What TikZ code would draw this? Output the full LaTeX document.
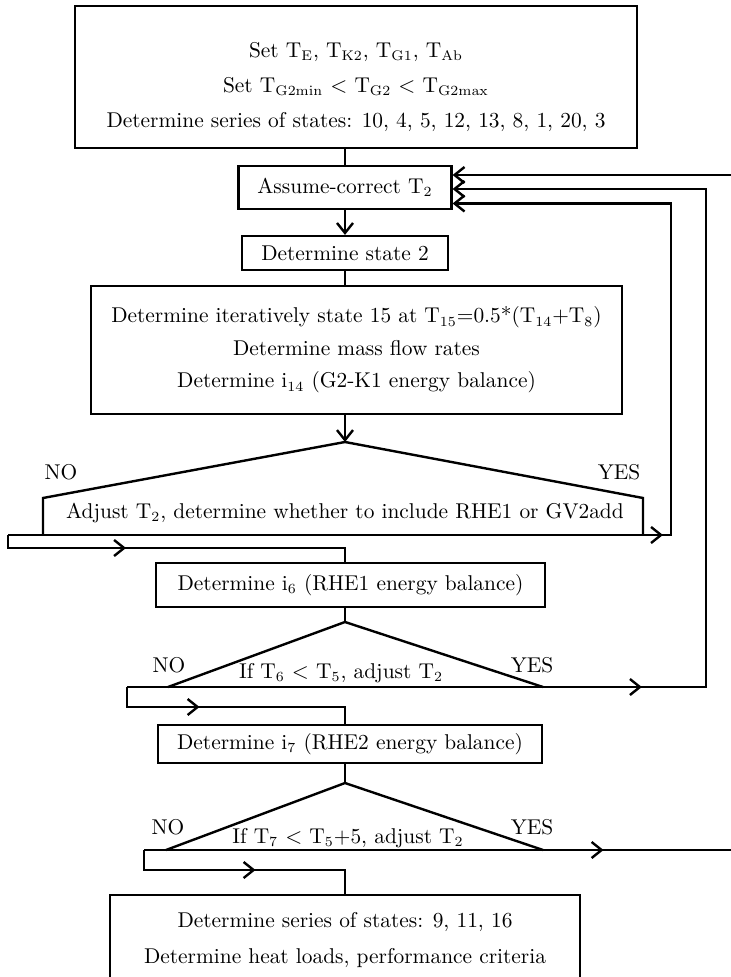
\documentclass[tikz,border=0pt]{standalone}
\usetikzlibrary{arrows.meta,decorations.markings}

\begin{document}
\begin{tikzpicture}[x=0.5pt, y=-0.5pt,
    fbox/.style={draw, line width=1.1pt, inner sep=0pt, align=center,
                 font=\fontsize{10.7}{13}\selectfont},
    lbl/.style={inner sep=0pt, font=\fontsize{10.7}{13}\selectfont},
    line/.style={line width=1.2pt},
    arr/.style={line, -{Straight Barb[length=5pt,width=8pt]}},
    midarr/.style={line, postaction={decorate}, decoration={markings,
        mark=at position #1 with {\arrow{Straight Barb[length=5pt,width=8pt]}}}}
  ]
  \useasboundingbox (0,0) rectangle (731,977);

  % boxes
  \node[fbox, minimum width=281pt, minimum height=71pt] (setup) at (356,77)
    {\rule{0pt}{17.5pt}Set T$_\mathrm{E}$, T$_\mathrm{K2}$, T$_\mathrm{G1}$, T$_\mathrm{Ab}$\\[4.5pt]
     Set T$_\mathrm{G2min}$ $<$ T$_\mathrm{G2}$ $<$ T$_\mathrm{G2max}$\\[4.5pt]
     Determine series of states: 10, 4, 5, 12, 13, 8, 1, 20, 3};
  \node[fbox, minimum width=106.5pt, minimum height=21.5pt] (assume) at (345,187.5)
    {Assume-correct T$_2$};
  \node[fbox, minimum width=103pt, minimum height=17pt] (state2) at (345,253)
    {Determine state 2};
  \node[fbox, minimum width=265.5pt, minimum height=64pt] (big) at (356.5,350)
    {Determine iteratively state 15 at T$_{15}$=0.5*(T$_{14}$+T$_8$)\\[3.25pt]
     Determine mass flow rates\\[3.25pt]
     Determine i$_{14}$ (G2-K1 energy balance)};
  \node[fbox, minimum width=194.5pt, minimum height=22pt] (i6) at (350.5,585)
    {Determine i$_6$ (RHE1 energy balance)};
  \node[fbox, minimum width=192pt, minimum height=19pt] (i7) at (350,744)
    {Determine i$_7$ (RHE2 energy balance)};
  \node[fbox, minimum width=235pt, minimum height=45pt] (final) at (345,940)
    {Determine series of states: 9, 11, 16\\[5pt]
     Determine heat loads, performance criteria};

  % decision 1
  \coordinate (d1) at (345,442);
  \draw[line] (43,535) -- (43,498) -- (d1) -- (643,498) -- (643,535);
  \node[lbl] (adjust) at (345,513) {Adjust T$_2$, determine whether to include RHE1 or GV2add};
  \node[lbl] (no1) at (61,472) {NO};
  \node[lbl] (yes1) at (619,472) {YES};
  \coordinate (l1) at (8,535);
  \coordinate (r1) at (671,535);

  % decision 2
  \coordinate (d2) at (345,622);
  \draw[line] (168,687) -- (d2) -- (543,687);
  \node[lbl] (test6) at (341,673) {If T$_6$ $<$ T$_5$, adjust T$_2$};
  \node[lbl] (no2) at (169,665) {NO};
  \node[lbl] (yes2) at (532,665) {YES};
  \coordinate (l2) at (127,687);
  \coordinate (r2) at (706,687);

  % decision 3
  \coordinate (d3) at (345,783);
  \draw[line] (166,850) -- (d3) -- (543,850);
  \node[lbl] (test7) at (348,838) {If T$_7$ $<$ T$_5$+5, adjust T$_2$};
  \node[lbl] (no3) at (168,827) {NO};
  \node[lbl] (yes3) at (532,827) {YES};
  \coordinate (l3) at (144,850);
  \coordinate (r3) at (745,850);

  % main line
  \draw[line] (setup.south -| assume.north) -- (assume.north);
  \draw[arr] (assume.south) -- (state2.north);
  \draw[line] (state2.south) -- (state2.south |- big.north);
  \draw[arr] (big.south -| d1) -- (d1);
  \draw[line] (i6.south -| d2) -- (d2);
  \draw[line] (i7.south -| d3) -- (d3);

  % YES loops back
  \draw[midarr=0.54, arr] (l1) -- (r1) |- ([yshift=-8pt]assume.east);
  \draw[midarr=0.387, arr] (l2) -- (r2) |- ([yshift=-0.75pt]assume.east);
  \draw[midarr=0.293, arr] (l3) -- (r3) |- ([yshift=6.25pt]assume.east);

  % NO goes on
  \draw[midarr=0.36] (l1) -- (8,548) -| (i6.north -| d1);
  \draw[midarr=0.363] (l2) -- (127,707) -| (i7.north -| d2);
  \draw[midarr=0.537] (l3) -- (144,870) -| (final.north);
\end{tikzpicture}
\end{document}
